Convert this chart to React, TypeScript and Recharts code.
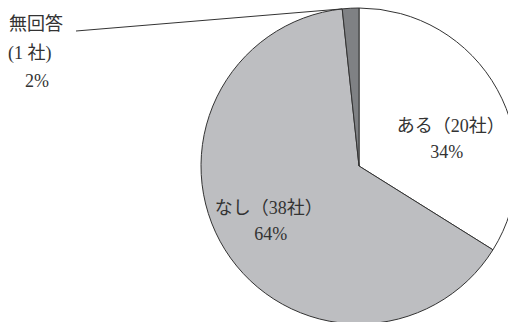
import { PieChart, Pie, Cell } from 'recharts';

const names = ['ある', 'なし', '無回答'];
const counts = [20, 38, 1];
const colors = ['#ffffff', '#bdbec1', '#7f8184'];

const data = names.map((name, i) => ({ name, value: counts[i] }));

// where the inside labels sit: fraction of radius, angle shift from the slice middle, nudge of the % line
const placement = [
  { r: 0.61, da: -11, px: -4 },
  { r: 0.66, da: -2, px: 2 },
];

const RAD = Math.PI / 180;
const polar = (cx: number, cy: number, r: number, a: number) => ({
  x: cx + r * Math.cos(-a * RAD),
  y: cy + r * Math.sin(-a * RAD),
});

const textStyle = { fontFamily: "'Liberation Serif', 'Noto Sans CJK JP', serif" };

const renderLabel = (props: any) => {
  const { cx, cy, midAngle, startAngle, outerRadius, index, name, value, percent } = props;
  const pct = `${Math.round(percent * 100)}%`;
  if (index < 2) {
    const p = placement[index];
    const c = polar(cx, cy, outerRadius * p.r, midAngle + p.da);
    return (
      <text x={c.x} y={c.y} textAnchor="middle" fill="#333" fontSize={18} style={textStyle}>
        <tspan x={c.x} y={c.y - 4}>{`${name}（${value}社）`}</tspan>
        <tspan x={c.x + p.px} y={c.y + 22}>{pct}</tspan>
      </text>
    );
  }
  const edge = polar(cx, cy, outerRadius, startAngle);
  return (
    <g>
      <line x1={76} y1={31} x2={edge.x} y2={edge.y} stroke="#333" strokeWidth={1} />
      <text fill="#333" fontSize={18} style={textStyle}>
        <tspan x={9} y={30}>{name}</tspan>
        <tspan x={8} y={59}>{`(${value} 社)`}</tspan>
        <tspan x={25} y={87}>{pct}</tspan>
      </text>
    </g>
  );
};

export default function App() {
  return (
    <div style={{ position: 'absolute', left: 0, top: 0, width: 508, height: 322, background: '#fff' }}>
      <PieChart width={508} height={322} margin={{ top: 0, right: 0, bottom: 0, left: 0 }}>
        <Pie
          data={data}
          dataKey="value"
          nameKey="name"
          cx={359}
          cy={166}
          outerRadius={158}
          startAngle={90}
          endAngle={-270}
          stroke="#333"
          strokeWidth={1}
          label={renderLabel}
          labelLine={false}
          isAnimationActive={false}
        >
          {data.map((d, i) => (
            <Cell key={d.name} fill={colors[i]} />
          ))}
        </Pie>
      </PieChart>
    </div>
  );
}
